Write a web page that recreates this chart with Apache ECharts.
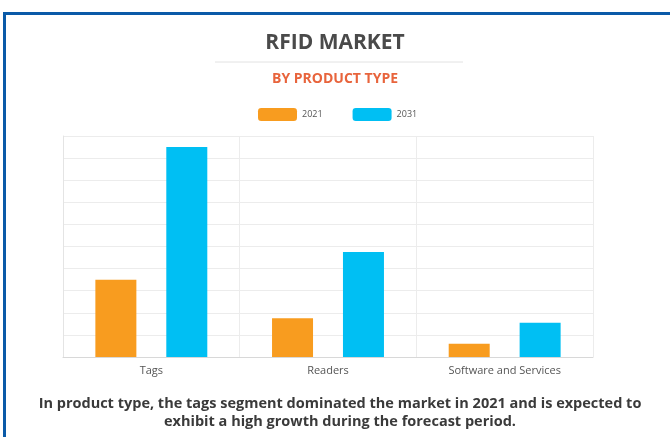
<!DOCTYPE html>
<html>
<head>
<meta charset="utf-8">
<script src="https://cdn.jsdelivr.net/npm/echarts@6/dist/echarts.min.js"></script>
<style>
	html, body { margin: 0; padding: 0; background: #fff; }
	#rfid-market { width: 670px; height: 437px; }
</style>
</head>
<body>
<div id="rfid-market"></div>
<script>
var categories = ['Tags', 'Readers', 'Software and Services'];
var years = ['2021', '2031'];
var values2021 = [3.5, 1.75, 0.6];
var values2031 = [9.5, 4.75, 1.55];
var caption = 'In product type, the tags segment dominated the market in 2021 and is expected to\nexhibit a high growth during the forecast period.';

var rfidChart = echarts.init(document.getElementById('rfid-market'));
var option = {
	backgroundColor: '#fff',
	textStyle: {
		fontFamily: 'Open Sans'
	},
	title: [{
		text: 'RFID MARKET',
		left: 'center',
		top: 28,
		textStyle: {
			fontFamily: 'Open Sans',
			fontSize: 21,
			fontWeight: 'bold',
			color: '#4a4a4a'
		}
	}, {
		text: 'BY PRODUCT TYPE',
		left: 'center',
		top: 67,
		textStyle: {
			fontFamily: 'Open Sans',
			fontSize: 14,
			fontWeight: 'bold',
			color: '#e8643c'
		}
	}],
	graphic: [{
		// blue frame, top and left edges only
		type: 'rect',
		shape: { x: 3, y: 12, width: 667, height: 3 },
		style: { fill: '#0a5aa8' }
	}, {
		type: 'rect',
		shape: { x: 3, y: 12, width: 3, height: 425 },
		style: { fill: '#0a5aa8' }
	}, {
		type: 'line',
		shape: { x1: 215, y1: 62, x2: 463, y2: 62 },
		style: { stroke: '#e2e2e2', lineWidth: 1 }
	}, {
		type: 'text',
		x: 340,
		y: 395,
		style: {
			text: caption,
			fontFamily: 'Open Sans',
			fontSize: 14.5,
			fontWeight: 'bold',
			fill: '#3a3a3a',
			lineHeight: 18,
			align: 'center'
		}
	}],
	legend: {
		top: 103,
		left: 253,
		itemWidth: 39,
		itemHeight: 13,
		itemGap: 30,
		data: years,
		textStyle: {
			fontSize: 9,
			color: '#555'
		},
		itemStyle: {
			borderRadius: 2
		}
	},
	grid: {
		left: 63,
		right: 77,
		top: 136,
		bottom: 80
	},
	xAxis: {
		type: 'category',
		data: categories,
		axisTick: { show: false },
		axisLine: { lineStyle: { color: '#d8d8d8' } },
		axisLabel: {
			color: '#555',
			fontSize: 11,
			margin: 8
		},
		splitLine: {
			show: true,
			lineStyle: { color: '#ececec' }
		}
	},
	yAxis: {
		type: 'value',
		min: 0,
		max: 10,
		interval: 1,
		axisLabel: { show: false },
		axisLine: { show: true, lineStyle: { color: '#e4e4e4' } },
		axisTick: { show: false },
		splitLine: {
			lineStyle: { color: '#ececec' }
		}
	},
	series: [{
		name: years[0],
		type: 'bar',
		data: values2021,
		barWidth: 41,
		barGap: '73%',
		itemStyle: { color: '#f89c1f' }
	}, {
		name: years[1],
		type: 'bar',
		data: values2031,
		barWidth: 41,
		itemStyle: { color: '#00bff3' }
	}]
};
rfidChart.setOption(option);
</script>
</body>
</html>
